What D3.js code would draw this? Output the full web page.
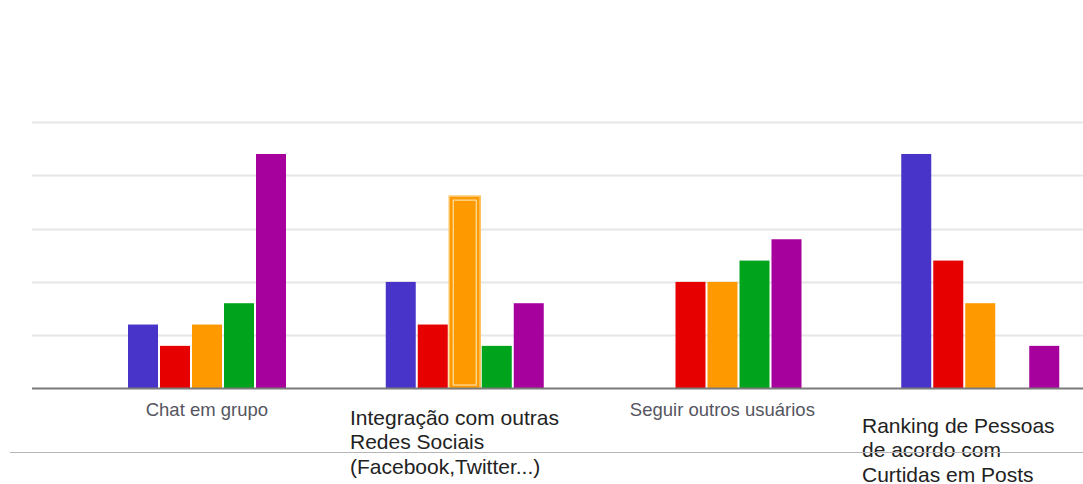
<!DOCTYPE html>
<html>
<head>
<meta charset="utf-8">
<script src="https://cdnjs.cloudflare.com/ajax/libs/d3/7.8.5/d3.min.js"></script>
<style>
  html, body { margin: 0; padding: 0; background: #fff; }
  svg { display: block; }
</style>
</head>
<body>
<div id="chart"></div>
<script>
// ---- data ----
const categories = ["Chat em grupo", "Integração com outras Redes Sociais (Facebook,Twitter...)", "Seguir outros usuários", "Ranking de Pessoas de acordo com Curtidas em Posts"];
const labelLines = [
  ["Chat em grupo"],
  ["Integração com outras", "Redes Sociais", "(Facebook,Twitter...)"],
  ["Seguir outros usuários"],
  ["Ranking de Pessoas", "de acordo com", "Curtidas em Posts"]
];
const seriesNames = ["s1", "s2", "s3", "s4", "s5"];
const seriesColors = ["#4934c9", "#e60000", "#ff9900", "#00a31c", "#a6009d"];
const values = [
  [3, 2, 3, 4, 11],
  [5, 3, 9, 2, 4],
  [0, 5, 5, 6, 7],
  [11, 6, 4, 0, 2]
];
const gridTicks = [0, 2.5, 5, 7.5, 10, 12.5];
const highlighted = { cat: 1, series: 2 };

// ---- layout ----
const W = 1083, H = 484;
const svg = d3.select("#chart").append("svg").attr("width", W).attr("height", H);

const y = d3.scaleLinear().domain([0, 12.5]).range([388.5, 122]);
const x0 = d3.scaleBand().domain(d3.range(categories.length)).range([78, 1109]).padding(0);
const x1 = d3.scaleBand().domain(seriesNames).range([49, 209]).paddingInner(0.0625).paddingOuter(0.03125);

// grid lines
svg.append("g").selectAll("line").data(gridTicks.filter(d => d > 0)).join("line")
  .attr("x1", 32).attr("x2", W)
  .attr("y1", d => Math.round(y(d)) + 0.5).attr("y2", d => Math.round(y(d)) + 0.5)
  .attr("stroke", "#e6e6e6").attr("stroke-width", 2);

// bars
const groups = svg.append("g").selectAll("g").data(values).join("g")
  .attr("transform", (d, i) => `translate(${x0(i)},0)`);

groups.selectAll("rect.bar").data((d, i) => d.map((v, j) => ({ v, j, i }))).join("rect")
  .attr("class", "bar")
  .attr("x", d => x1(seriesNames[d.j]))
  .attr("width", x1.bandwidth())
  .attr("y", d => y(d.v))
  .attr("height", d => y(0) - y(d.v))
  .attr("fill", d => seriesColors[d.j]);

// highlighted bar (hover state)
{
  const v = values[highlighted.cat][highlighted.series];
  const bx = x0(highlighted.cat) + x1(seriesNames[highlighted.series]);
  const bw = x1.bandwidth();
  const g = svg.append("g");
  g.append("rect")
    .attr("x", bx - 0.5).attr("y", y(v) - 0.5)
    .attr("width", bw + 1).attr("height", y(0) - y(v) + 0.5)
    .attr("fill", "none").attr("stroke", "#ffc25e").attr("stroke-width", 1.5);
  g.append("rect")
    .attr("x", bx + 3.5).attr("y", y(v) + 3.5)
    .attr("width", bw - 7).attr("height", y(0) - y(v) - 7)
    .attr("fill", "none").attr("stroke", "#ffe0a6").attr("stroke-width", 1.2);
}

// baseline
svg.append("line")
  .attr("x1", 32).attr("x2", W)
  .attr("y1", y(0)).attr("y2", y(0))
  .attr("stroke", "#7a7a7a").attr("stroke-width", 2);

// category labels
labelLines.forEach((lines, i) => {
  const cx = x0(i) + x0.bandwidth() / 2;
  if (lines.length === 1) {
    svg.append("text")
      .attr("x", cx).attr("y", 416)
      .attr("text-anchor", "middle")
      .attr("font-family", "'Liberation Sans', Arial, sans-serif")
      .attr("font-size", 18.5)
      .attr("fill", "#555560")
      .text(lines[0]);
  } else {
    const left = i === 1 ? 350 : 862;
    const top = i === 1 ? 424.5 : 432.5;
    const t = svg.append("text")
      .attr("font-family", "'Liberation Sans', Arial, sans-serif")
      .attr("font-size", 21)
      .attr("fill", "#222");
    lines.forEach((ln, k) => {
      t.append("tspan").attr("x", left).attr("y", top + k * 24.5).text(ln);
    });
  }
});

// separator line
svg.append("line")
  .attr("x1", 10).attr("x2", W)
  .attr("y1", 452.5).attr("y2", 452.5)
  .attr("stroke", "#b5b5b5").attr("stroke-width", 1.2);
</script>
</body>
</html>
